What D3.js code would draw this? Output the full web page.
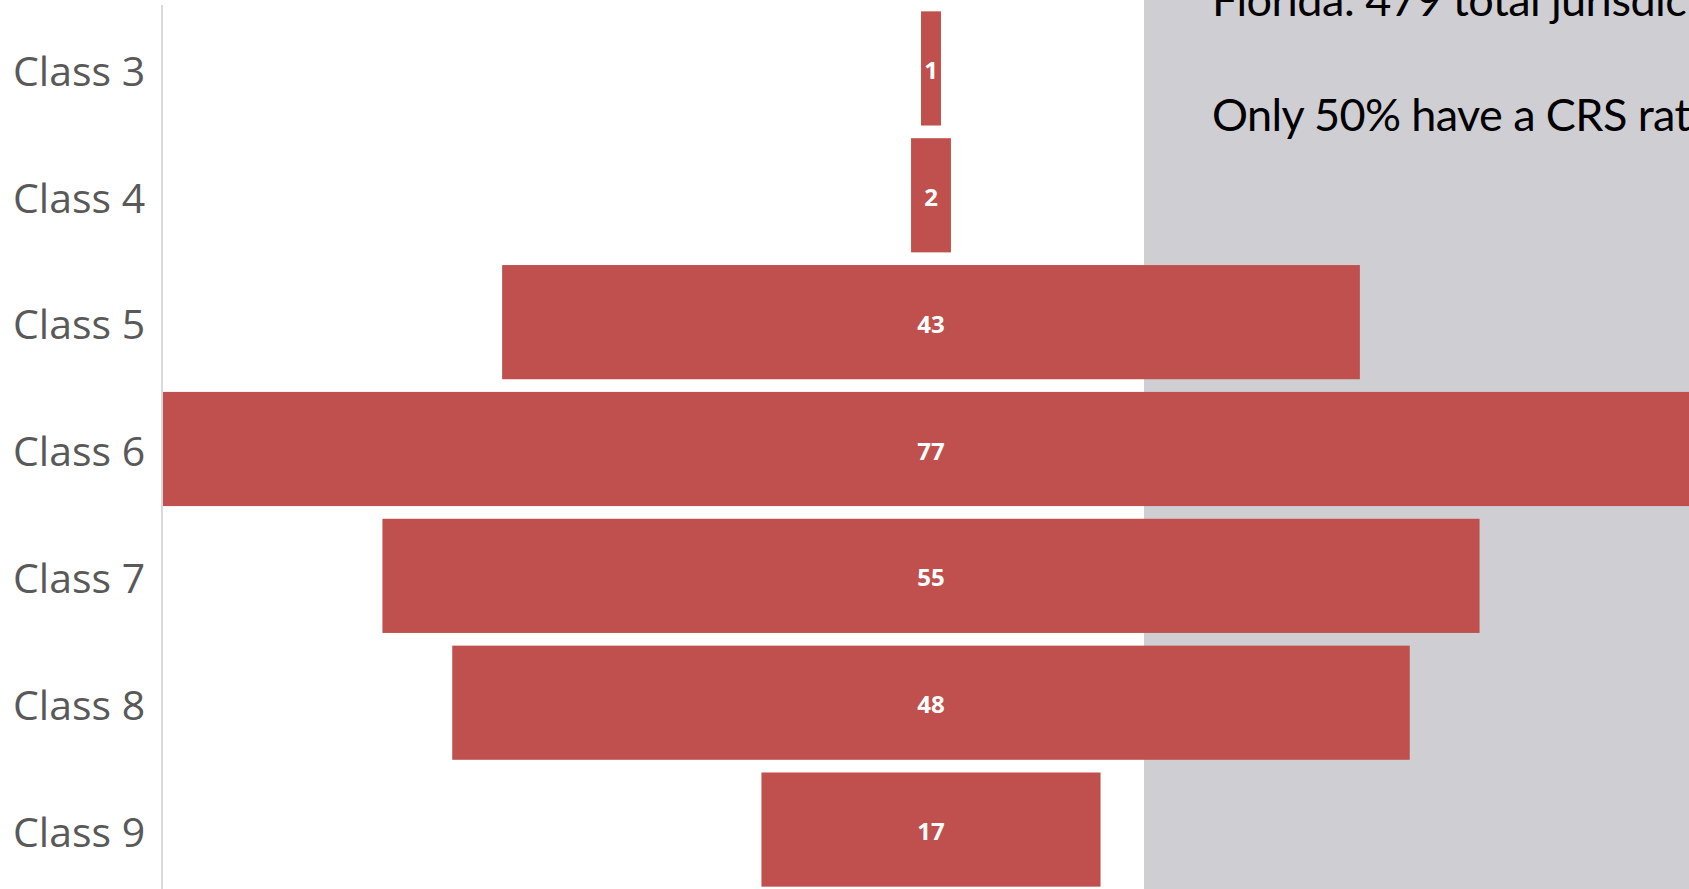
<!DOCTYPE html>
<html>
<head>
<meta charset="utf-8">
<script src="https://cdn.jsdelivr.net/npm/d3@7"></script>
<style>
    html, body { margin: 0; padding: 0; background: #fff; overflow: hidden; }
</style>
</head>
<body>
<div id="chart"></div>
<script>
// data
const classes = ["Class 3", "Class 4", "Class 5", "Class 6", "Class 7", "Class 8", "Class 9"];
const counts = [1, 2, 43, 77, 55, 48, 17];
const noteLines = ["Florida: 479 total jurisdictions", "Only 50% have a CRS rating"];

const width = 1689;
const height = 889;

const svg = d3.select("#chart")
    .append("svg")
    .attr("width", width)
    .attr("height", height);

// grey text panel on the right
svg.append("rect")
    .attr("x", 1144)
    .attr("y", 0)
    .attr("width", width - 1144)
    .attr("height", height)
    .attr("fill", "#cfced3");

// scales: bars centred on zero, spread to both sides
const maxVal = d3.max(counts);
const x = d3.scaleLinear()
    .domain([-maxVal, maxVal])
    .range([163, 1699]);

const y = d3.scaleBand()
    .domain(classes)
    .range([5, 893])
    .paddingInner(0.1)
    .paddingOuter(0.05);

// bars
svg.append("g")
    .selectAll("rect")
    .data(classes)
    .join("rect")
    .attr("x", (d, i) => x(-counts[i]))
    .attr("y", d => y(d))
    .attr("width", (d, i) => x(counts[i]) - x(-counts[i]))
    .attr("height", y.bandwidth())
    .attr("fill", "#c0504d");

// value labels
svg.append("g")
    .selectAll("text")
    .data(classes)
    .join("text")
    .attr("x", x(0))
    .attr("y", d => y(d) + y.bandwidth() / 2 + 1)
    .attr("text-anchor", "middle")
    .attr("dominant-baseline", "central")
    .style("font-family", "'Open Sans', sans-serif")
    .style("font-weight", "bold")
    .style("font-size", "24px")
    .attr("fill", "#fff")
    .text((d, i) => counts[i]);

// category axis on the left
const yAxis = svg.append("g")
    .attr("transform", "translate(162,0)")
    .call(d3.axisLeft(y).tickSize(0).tickPadding(18));

yAxis.select(".domain")
    .attr("d", "M0,5V889")
    .attr("stroke", "#d9d9d9")
    .attr("stroke-width", 2);

yAxis.selectAll(".tick text")
    .attr("text-anchor", "start")
    .attr("x", -149)
    .attr("dy", "0.42em")
    .style("font-family", "'Open Sans', sans-serif")
    .style("font-size", "41px")
    .attr("fill", "#595959");

// note text in the grey panel
svg.append("g")
    .selectAll("text")
    .data(noteLines)
    .join("text")
    .attr("x", 1212)
    .attr("y", (d, i) => 16 + i * 115)
    .style("font-family", "Lato, sans-serif")
    .style("font-size", "45px")
    .style("letter-spacing", "-0.6px")
    .attr("fill", "#000")
    .text(d => d);
</script>
</body>
</html>
